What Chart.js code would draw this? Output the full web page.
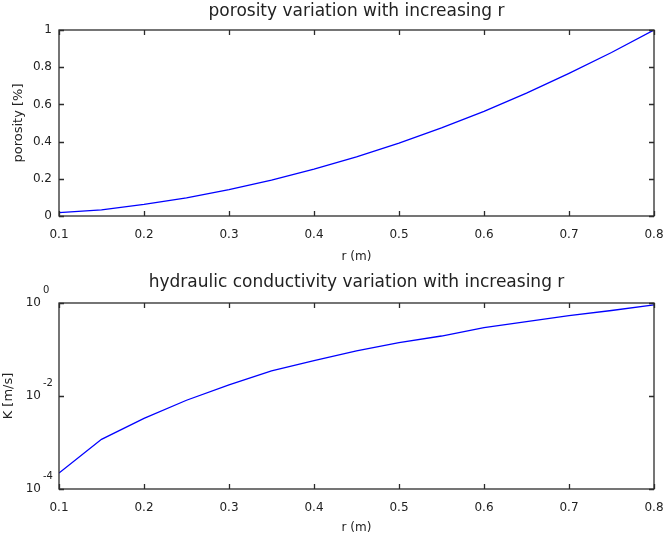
<!DOCTYPE html>
<html>
<head>
<meta charset="utf-8">
<script src="https://cdn.jsdelivr.net/npm/chart.js@4.4.1/dist/chart.umd.min.js"></script>
<style>
  html, body { margin: 0; padding: 0; background: #fff; overflow: hidden; }
  #wrap { position: relative; width: 663px; height: 542px; }
  canvas { position: absolute; left: 0; display: block; }
</style>
</head>
<body>
<div id="wrap">
  <canvas id="porosityChart" width="663" height="271" style="top:0"></canvas>
  <canvas id="kChart" width="663" height="271" style="top:271px"></canvas>
</div>
<script>
// radius values (m)
var r = [0.1, 0.15, 0.2, 0.25, 0.3, 0.35, 0.4, 0.45, 0.5, 0.55, 0.6, 0.65, 0.7, 0.75, 0.8];
// porosity
var porosity = [0.018, 0.033, 0.062, 0.097, 0.142, 0.193, 0.252, 0.318, 0.392, 0.474, 0.563, 0.661, 0.767, 0.879, 1.0];
// hydraulic conductivity K (m/s)
var K = [2.2e-4, 1.17e-3, 3.3e-3, 8.1e-3, 0.0174, 0.0347, 0.0575, 0.093, 0.141, 0.195, 0.295, 0.398, 0.537, 0.69, 0.91];
var xTicks = [0.1, 0.2, 0.3, 0.4, 0.5, 0.6, 0.7, 0.8];
var porosityTicks = [0, 0.2, 0.4, 0.6, 0.8, 1];
var kTicks = [1e-4, 1e-2, 1];
var kExponents = ['-4', '-2', '0'];

var FONT = "'DejaVu Sans', Verdana, sans-serif";
var INK = '#222222';

function toPoints(xs, ys) {
    var pts = [];
    for (var i in xs) {
        pts.push({ x: xs[i], y: ys[i] });
    }
    return pts;
}

function fixedTicks(list) {
    return function (scale) {
        scale.ticks = list.map(function (v) { return { value: v }; });
    };
}

// draws the matlab style box with inward tick marks
var boxPlugin = {
    id: 'matlabBox',
    afterLayout: function (chart) {
        // center the title over the plot area like matlab does
        var tb = chart.titleBlock;
        if (tb) {
            tb.left = chart.chartArea.left;
            tb.right = chart.chartArea.right;
            tb.width = tb.right - tb.left;
        }
    },
    afterDraw: function (chart) {
        var ctx = chart.ctx;
        var a = chart.chartArea;
        var xs = chart.scales.x;
        var ys = chart.scales.y;
        var len = 5;
        ctx.save();
        ctx.strokeStyle = '#2b2b2b';
        ctx.lineWidth = 1.3;
        ctx.strokeRect(a.left, a.top, a.right - a.left, a.bottom - a.top);
        ctx.beginPath();
        xs.ticks.forEach(function (t) {
            var px = Math.round(xs.getPixelForValue(t.value)) + 0.5;
            ctx.moveTo(px, a.bottom);
            ctx.lineTo(px, a.bottom - len);
            ctx.moveTo(px, a.top);
            ctx.lineTo(px, a.top + len);
        });
        ys.ticks.forEach(function (t) {
            var py = Math.round(ys.getPixelForValue(t.value)) + 0.5;
            ctx.moveTo(a.left, py);
            ctx.lineTo(a.left + len, py);
            ctx.moveTo(a.right, py);
            ctx.lineTo(a.right - len, py);
        });
        ctx.stroke();

        // exponents for the log axis labels
        var opts = chart.options.plugins.matlabBox;
        if (opts && opts.exponents) {
            ctx.fillStyle = INK;
            ctx.font = '10px ' + FONT;
            ctx.textAlign = 'left';
            ctx.textBaseline = 'middle';
            ys.ticks.forEach(function (t, i) {
                var py = ys.getPixelForValue(t.value);
                ctx.fillText(opts.exponents[i], 43, py - 13);
            });
        }
        ctx.restore();
    }
};

function baseOptions(title, xTitle, yTitle, xHeight, titleBottom, yTitlePad) {
    return {
        responsive: false,
        animation: false,
        layout: { autoPadding: false, padding: { left: 0, right: 9, top: 0, bottom: 0 } },
        plugins: {
            legend: { display: false },
            tooltip: { enabled: false },
            title: {
                display: true,
                text: title,
                color: INK,
                font: { family: FONT, size: 17, weight: 'normal' },
                padding: { top: 1, bottom: titleBottom }
            }
        },
        scales: {
            x: {
                type: 'linear',
                min: 0.1,
                max: 0.8,
                afterBuildTicks: fixedTicks(xTicks),
                afterFit: function (scale) {
                    scale.height = xHeight;
                    scale.paddingLeft = 0;
                    scale.paddingRight = 0;
                },
                grid: { display: false, drawTicks: false },
                border: { display: false },
                ticks: {
                    color: INK,
                    padding: 12,
                    maxRotation: 0,
                    font: { family: FONT, size: 12 },
                    callback: function (v) { return v.toFixed(1); }
                },
                title: {
                    display: true,
                    text: xTitle,
                    color: INK,
                    font: { family: FONT, size: 12 },
                    padding: { top: 0, bottom: 7 }
                }
            },
            y: {
                afterFit: function (scale) {
                    scale.width = 59;
                    scale.paddingTop = 0;
                    scale.paddingBottom = 0;
                },
                grid: { display: false, drawTicks: false },
                border: { display: false },
                title: {
                    display: true,
                    text: yTitle,
                    color: INK,
                    font: { family: FONT, size: 13 },
                    padding: { top: yTitlePad, bottom: 0 }
                }
            }
        }
    };
}

var porosityOptions = baseOptions('porosity variation with increasing r', 'r (m)', 'porosity [%]', 55, 8.6, 11);
porosityOptions.scales.y.min = 0;
porosityOptions.scales.y.max = 1;
porosityOptions.scales.y.afterBuildTicks = fixedTicks(porosityTicks);
porosityOptions.scales.y.ticks = {
    padding: 7,
    color: INK,
    font: { family: FONT, size: 12 },
    callback: function (v) { return String(+v.toFixed(1)); }
};

new Chart(document.getElementById('porosityChart'), {
    type: 'line',
    data: {
        datasets: [{
            data: toPoints(r, porosity),
            borderColor: '#0000ff',
            borderWidth: 1.3,
            pointRadius: 0,
            tension: 0,
            fill: false
        }]
    },
    options: porosityOptions,
    plugins: [boxPlugin]
});

var kOptions = baseOptions('hydraulic conductivity variation with increasing r', 'r (m)', 'K [m/s]', 53, 10.6, 1);
kOptions.scales.y.type = 'logarithmic';
kOptions.scales.y.min = 1e-4;
kOptions.scales.y.max = 1;
kOptions.scales.y.afterBuildTicks = fixedTicks(kTicks);
kOptions.scales.y.ticks = {
    padding: 18,
    color: INK,
    font: { family: FONT, size: 12 },
    callback: function () { return '10'; }
};
kOptions.plugins.matlabBox = { exponents: kExponents };

new Chart(document.getElementById('kChart'), {
    type: 'line',
    data: {
        datasets: [{
            data: toPoints(r, K),
            borderColor: '#0000ff',
            borderWidth: 1.3,
            pointRadius: 0,
            tension: 0,
            fill: false
        }]
    },
    options: kOptions,
    plugins: [boxPlugin]
});
</script>
</body>
</html>
